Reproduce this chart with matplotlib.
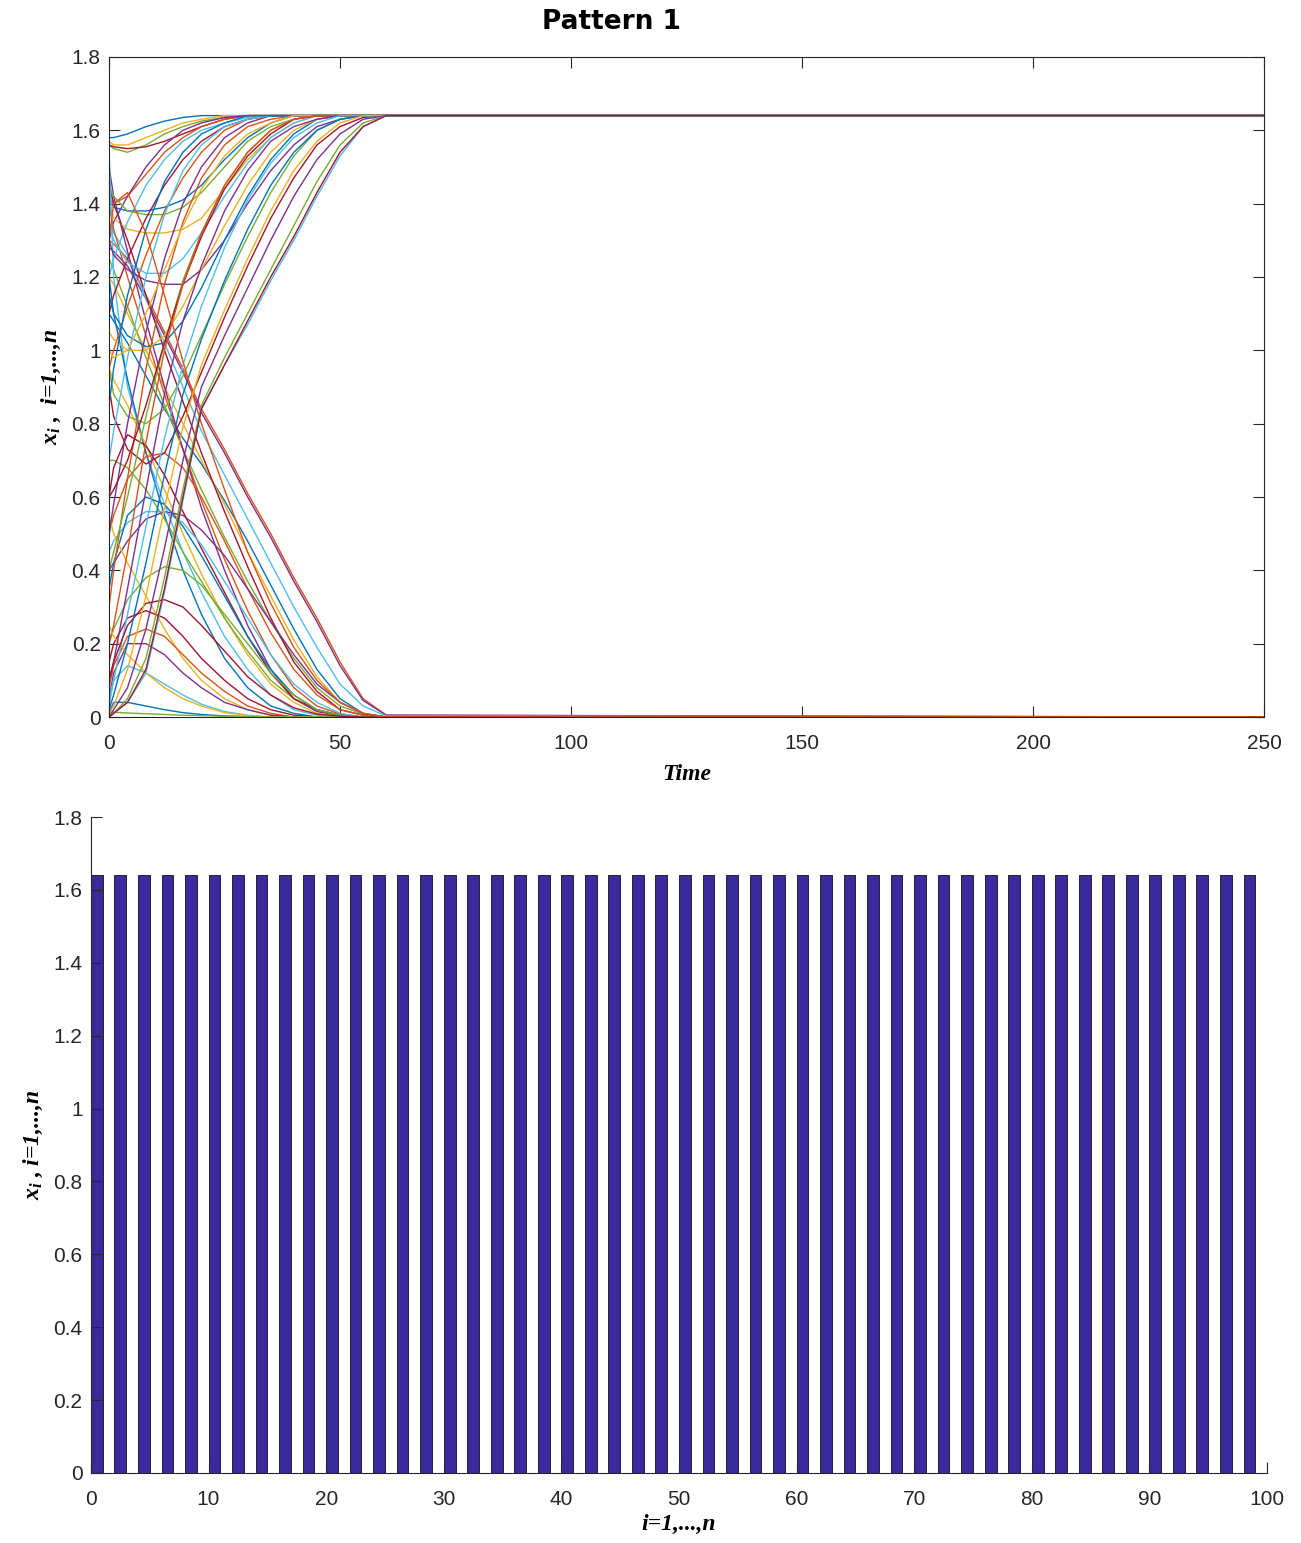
import numpy as np
import matplotlib.pyplot as plt
from matplotlib.ticker import FuncFormatter

plt.rcParams['mathtext.fontset'] = 'custom'
plt.rcParams['mathtext.it'] = 'Liberation Serif:italic:bold'
plt.rcParams['mathtext.rm'] = 'Liberation Serif:italic:bold'
plt.rcParams['mathtext.bf'] = 'Liberation Serif:italic:bold'

# sample times of the trajectories
times = [0, 1, 4, 8, 12, 16, 20, 25, 30, 35, 40, 45, 50, 55, 60, 250]

# trajectories that end at the upper equilibrium
rising = [
    [1.58, 1.58, 1.59, 1.61, 1.625, 1.635, 1.64, 1.64, 1.64, 1.64, 1.64, 1.64, 1.64, 1.64, 1.64, 1.64],
    [1.57, 1.56, 1.56, 1.58, 1.60, 1.62, 1.63, 1.64, 1.64, 1.64, 1.64, 1.64, 1.64, 1.64, 1.64, 1.64],
    [1.56, 1.55, 1.54, 1.56, 1.59, 1.61, 1.625, 1.635, 1.64, 1.64, 1.64, 1.64, 1.64, 1.64, 1.64, 1.64],
    [1.56, 1.555, 1.55, 1.555, 1.57, 1.59, 1.61, 1.63, 1.64, 1.64, 1.64, 1.64, 1.64, 1.64, 1.64, 1.64],
    [1.45, 1.40, 1.42, 1.48, 1.54, 1.58, 1.61, 1.63, 1.64, 1.64, 1.64, 1.64, 1.64, 1.64, 1.64, 1.64],
    [1.30, 1.35, 1.42, 1.50, 1.56, 1.60, 1.62, 1.635, 1.64, 1.64, 1.64, 1.64, 1.64, 1.64, 1.64, 1.64],
    [1.20, 1.25, 1.35, 1.45, 1.52, 1.57, 1.60, 1.62, 1.635, 1.64, 1.64, 1.64, 1.64, 1.64, 1.64, 1.64],
    [1.42, 1.39, 1.38, 1.38, 1.39, 1.41, 1.45, 1.52, 1.58, 1.62, 1.64, 1.64, 1.64, 1.64, 1.64, 1.64],
    [1.40, 1.36, 1.33, 1.32, 1.32, 1.33, 1.36, 1.44, 1.52, 1.58, 1.62, 1.64, 1.64, 1.64, 1.64, 1.64],
    [1.45, 1.42, 1.38, 1.37, 1.37, 1.39, 1.43, 1.50, 1.57, 1.61, 1.63, 1.64, 1.64, 1.64, 1.64, 1.64],
    [1.10, 1.15, 1.25, 1.36, 1.45, 1.52, 1.57, 1.61, 1.63, 1.64, 1.64, 1.64, 1.64, 1.64, 1.64, 1.64],
    [0.95, 1.00, 1.12, 1.26, 1.38, 1.47, 1.54, 1.60, 1.63, 1.64, 1.64, 1.64, 1.64, 1.64, 1.64, 1.64],
    [1.30, 1.26, 1.22, 1.19, 1.18, 1.18, 1.22, 1.30, 1.40, 1.49, 1.56, 1.61, 1.63, 1.64, 1.64, 1.64],
    [1.35, 1.30, 1.24, 1.21, 1.21, 1.25, 1.32, 1.42, 1.51, 1.58, 1.62, 1.64, 1.64, 1.64, 1.64, 1.64],
    [1.15, 1.10, 1.04, 1.01, 1.02, 1.08, 1.17, 1.30, 1.42, 1.52, 1.59, 1.63, 1.64, 1.64, 1.64, 1.64],
    [1.05, 1.03, 1.00, 1.00, 1.04, 1.12, 1.22, 1.34, 1.45, 1.54, 1.60, 1.63, 1.64, 1.64, 1.64, 1.64],
    [0.95, 0.88, 0.82, 0.80, 0.84, 0.93, 1.04, 1.18, 1.31, 1.43, 1.53, 1.60, 1.63, 1.64, 1.64, 1.64],
    [0.90, 0.82, 0.73, 0.69, 0.72, 0.82, 0.94, 1.09, 1.23, 1.36, 1.47, 1.56, 1.61, 1.635, 1.64, 1.64],
    [0.30, 0.40, 0.65, 0.95, 1.18, 1.35, 1.47, 1.56, 1.61, 1.63, 1.64, 1.64, 1.64, 1.64, 1.64, 1.64],
    [0.50, 0.58, 0.80, 1.05, 1.25, 1.40, 1.50, 1.58, 1.62, 1.64, 1.64, 1.64, 1.64, 1.64, 1.64, 1.64],
    [0.70, 0.78, 0.98, 1.20, 1.37, 1.49, 1.56, 1.61, 1.63, 1.64, 1.64, 1.64, 1.64, 1.64, 1.64, 1.64],
    [0.85, 0.95, 1.15, 1.33, 1.46, 1.54, 1.59, 1.62, 1.64, 1.64, 1.64, 1.64, 1.64, 1.64, 1.64, 1.64],
    [1.00, 0.98, 1.00, 1.10, 1.22, 1.34, 1.44, 1.53, 1.59, 1.62, 1.64, 1.64, 1.64, 1.64, 1.64, 1.64],
    [0.40, 0.45, 0.60, 0.82, 1.02, 1.19, 1.32, 1.45, 1.54, 1.60, 1.63, 1.64, 1.64, 1.64, 1.64, 1.64],
    [0.60, 0.62, 0.70, 0.85, 1.02, 1.18, 1.31, 1.44, 1.53, 1.59, 1.63, 1.64, 1.64, 1.64, 1.64, 1.64],
    [0.20, 0.25, 0.45, 0.75, 1.00, 1.18, 1.32, 1.45, 1.54, 1.60, 1.63, 1.64, 1.64, 1.64, 1.64, 1.64],
    [0.10, 0.15, 0.35, 0.62, 0.88, 1.08, 1.23, 1.38, 1.49, 1.57, 1.61, 1.63, 1.64, 1.64, 1.64, 1.64],
    [0.05, 0.10, 0.28, 0.52, 0.76, 0.96, 1.12, 1.28, 1.41, 1.51, 1.58, 1.62, 1.64, 1.64, 1.64, 1.64],
    [0.02, 0.06, 0.20, 0.42, 0.66, 0.88, 1.03, 1.19, 1.33, 1.45, 1.54, 1.60, 1.63, 1.64, 1.64, 1.64],
    [0.01, 0.03, 0.13, 0.33, 0.57, 0.79, 0.96, 1.11, 1.25, 1.38, 1.49, 1.57, 1.62, 1.64, 1.64, 1.64],
    [0.00, 0.02, 0.08, 0.24, 0.46, 0.70, 0.90, 1.04, 1.17, 1.30, 1.42, 1.52, 1.59, 1.63, 1.64, 1.64],
    [0.00, 0.01, 0.05, 0.16, 0.38, 0.62, 0.85, 0.98, 1.10, 1.22, 1.34, 1.46, 1.56, 1.62, 1.64, 1.64],
    [0.00, 0.01, 0.04, 0.12, 0.34, 0.59, 0.84, 0.96, 1.07, 1.19, 1.30, 1.42, 1.53, 1.61, 1.64, 1.64],
    [0.00, 0.01, 0.04, 0.13, 0.35, 0.60, 0.84, 0.96, 1.08, 1.20, 1.31, 1.43, 1.54, 1.61, 1.64, 1.64],
]

# trajectories that die out
falling = [
    [1.30, 1.29, 1.25, 1.15, 1.05, 0.95, 0.84, 0.73, 0.61, 0.50, 0.38, 0.27, 0.15, 0.05, 0.005, 0.0],
    [1.28, 1.27, 1.23, 1.14, 1.04, 0.94, 0.83, 0.72, 0.60, 0.49, 0.37, 0.26, 0.14, 0.045, 0.005, 0.0],
    [1.35, 1.32, 1.26, 1.14, 1.02, 0.90, 0.78, 0.66, 0.54, 0.42, 0.30, 0.19, 0.09, 0.03, 0.003, 0.0],
    [1.10, 1.08, 1.02, 0.93, 0.84, 0.76, 0.69, 0.59, 0.48, 0.36, 0.24, 0.13, 0.05, 0.01, 0.0, 0.0],
    [1.20, 1.18, 1.10, 1.00, 0.90, 0.80, 0.70, 0.58, 0.45, 0.33, 0.21, 0.11, 0.04, 0.01, 0.0, 0.0],
    [1.25, 1.22, 1.12, 0.98, 0.85, 0.73, 0.62, 0.49, 0.37, 0.26, 0.16, 0.08, 0.03, 0.008, 0.0, 0.0],
    [1.45, 1.40, 1.30, 1.15, 1.00, 0.86, 0.72, 0.56, 0.41, 0.27, 0.15, 0.07, 0.02, 0.005, 0.0, 0.0],
    [1.40, 1.33, 1.20, 1.04, 0.88, 0.73, 0.59, 0.43, 0.29, 0.17, 0.08, 0.03, 0.008, 0.0, 0.0, 0.0],
    [1.50, 1.42, 1.27, 1.08, 0.90, 0.73, 0.57, 0.40, 0.25, 0.13, 0.05, 0.015, 0.003, 0.0, 0.0, 0.0],
    [1.55, 1.20, 0.90, 0.72, 0.58, 0.45, 0.34, 0.22, 0.13, 0.06, 0.02, 0.005, 0.0, 0.0, 0.0, 0.0],
    [1.20, 1.10, 0.92, 0.72, 0.55, 0.40, 0.28, 0.16, 0.08, 0.03, 0.01, 0.0, 0.0, 0.0, 0.0, 0.0],
    [0.95, 0.92, 0.85, 0.74, 0.62, 0.50, 0.39, 0.27, 0.17, 0.09, 0.04, 0.01, 0.002, 0.0, 0.0, 0.0],
    [0.70, 0.70, 0.68, 0.62, 0.54, 0.45, 0.37, 0.27, 0.18, 0.10, 0.05, 0.02, 0.004, 0.0, 0.0, 0.0],
    [0.60, 0.68, 0.77, 0.74, 0.66, 0.56, 0.46, 0.34, 0.22, 0.12, 0.05, 0.02, 0.005, 0.0, 0.0, 0.0],
    [0.50, 0.55, 0.65, 0.71, 0.72, 0.68, 0.60, 0.48, 0.35, 0.23, 0.13, 0.06, 0.02, 0.005, 0.0, 0.0],
    [0.40, 0.42, 0.48, 0.54, 0.56, 0.55, 0.51, 0.44, 0.35, 0.26, 0.17, 0.09, 0.04, 0.01, 0.0, 0.0],
    [0.45, 0.48, 0.53, 0.56, 0.56, 0.53, 0.47, 0.37, 0.27, 0.17, 0.09, 0.04, 0.01, 0.0, 0.0, 0.0],
    [0.35, 0.42, 0.55, 0.60, 0.58, 0.52, 0.44, 0.33, 0.22, 0.13, 0.06, 0.02, 0.005, 0.0, 0.0, 0.0],
    [0.55, 0.50, 0.42, 0.33, 0.24, 0.16, 0.10, 0.05, 0.02, 0.005, 0.0, 0.0, 0.0, 0.0, 0.0, 0.0],
    [0.20, 0.24, 0.32, 0.38, 0.41, 0.40, 0.36, 0.28, 0.20, 0.12, 0.06, 0.02, 0.005, 0.0, 0.0, 0.0],
    [0.15, 0.20, 0.27, 0.29, 0.27, 0.22, 0.16, 0.10, 0.05, 0.02, 0.005, 0.0, 0.0, 0.0, 0.0, 0.0],
    [0.08, 0.14, 0.22, 0.24, 0.22, 0.17, 0.12, 0.07, 0.03, 0.01, 0.0, 0.0, 0.0, 0.0, 0.0, 0.0],
    [0.05, 0.12, 0.20, 0.20, 0.17, 0.12, 0.08, 0.04, 0.02, 0.005, 0.0, 0.0, 0.0, 0.0, 0.0, 0.0],
    [0.03, 0.10, 0.14, 0.12, 0.09, 0.06, 0.035, 0.015, 0.005, 0.0, 0.0, 0.0, 0.0, 0.0, 0.0, 0.0],
    [0.01, 0.04, 0.04, 0.03, 0.02, 0.012, 0.007, 0.003, 0.001, 0.0, 0.0, 0.0, 0.0, 0.0, 0.0, 0.0],
    [0.25, 0.22, 0.17, 0.12, 0.08, 0.05, 0.03, 0.012, 0.004, 0.0, 0.0, 0.0, 0.0, 0.0, 0.0, 0.0],
    [0.015, 0.013, 0.011, 0.009, 0.007, 0.005, 0.004, 0.002, 0.001, 0.0, 0.0, 0.0, 0.0, 0.0, 0.0, 0.0],
    [0.10, 0.15, 0.25, 0.31, 0.32, 0.30, 0.25, 0.18, 0.11, 0.06, 0.025, 0.008, 0.002, 0.0, 0.0, 0.0],
    [1.30, 1.40, 1.43, 1.32, 1.15, 0.97, 0.80, 0.62, 0.45, 0.31, 0.19, 0.10, 0.04, 0.01, 0.0, 0.0],
]

# final state of each node (bar chart)
node_index = list(range(1, 101))
final_state = [1.64 if i % 2 == 1 else 0.0 for i in node_index]

matlab_colors = ['#0072BD', '#D95319', '#EDB120', '#7E2F8E', '#77AC30', '#4DBEEE', '#A2142F']
axis_gray = '#262626'
label_font = dict(family='Liberation Serif', style='italic', weight='bold', fontsize=17)

fig = plt.figure(figsize=(13.01, 15.43), dpi=100)

# ---- top: time series ----
ax1 = fig.add_axes([0.0838, 0.5353, 0.8878, 0.4278])
order = []
for k in range(max(len(rising), len(falling))):
    if k < len(rising):
        order.append(rising[k])
    if k < len(falling):
        order.append(falling[k])
for k, curve in enumerate(order):
    ax1.plot(times, curve, color=matlab_colors[k % len(matlab_colors)], lw=1.0)

ax1.set_xlim(0, 250)
ax1.set_ylim(0, 1.8)
ax1.set_xticks([0, 50, 100, 150, 200, 250])
ax1.set_yticks(np.arange(0, 1.81, 0.2))
ax1.set_xlabel('Time', labelpad=8, **label_font)
ax1.set_ylabel(r'$x_i$ ,  i=1,...,n', labelpad=6, **label_font)

# ---- bottom: bar chart of final states ----
ax2 = fig.add_axes([0.0699, 0.0454, 0.9040, 0.4251])
ax2.bar([i - 0.5 for i in node_index], final_state, width=1.0, color='#3A2A9E',
        edgecolor='#111111', linewidth=0.6)
ax2.set_xlim(0, 100)
ax2.set_ylim(0, 1.8)
ax2.set_xticks(np.arange(0, 101, 10))
ax2.set_yticks(np.arange(0, 1.81, 0.2))
ax2.spines['top'].set_visible(False)
ax2.spines['right'].set_visible(False)
ax2.set_xlabel('i=1,...,n', labelpad=4, **label_font)
ax2.set_ylabel(r'$x_i$ , i=1,...,n', labelpad=6, **label_font)

fmt = FuncFormatter(lambda v, p: ('%g' % round(v, 2)))
for ax in (ax1, ax2):
    ax.yaxis.set_major_formatter(fmt)
    ax.xaxis.set_major_formatter(fmt)
    for s in ax.spines.values():
        s.set_color(axis_gray)
        s.set_linewidth(0.8)
    ax.tick_params(direction='in', length=8, width=0.8, color=axis_gray,
                   labelcolor=axis_gray, labelsize=15)
    ax.tick_params(axis='x', pad=12)
    ax.tick_params(axis='y', pad=6)
    for lab in ax.get_xticklabels() + ax.get_yticklabels():
        lab.set_family('Liberation Sans')
ax1.tick_params(top=True, right=True)

fig.text(611 / 1301, 1 - 22 / 1543, 'Pattern 1', ha='center', va='center',
         fontsize=19, weight='bold', family='DejaVu Sans')

fig.savefig('out.png', dpi=100)
